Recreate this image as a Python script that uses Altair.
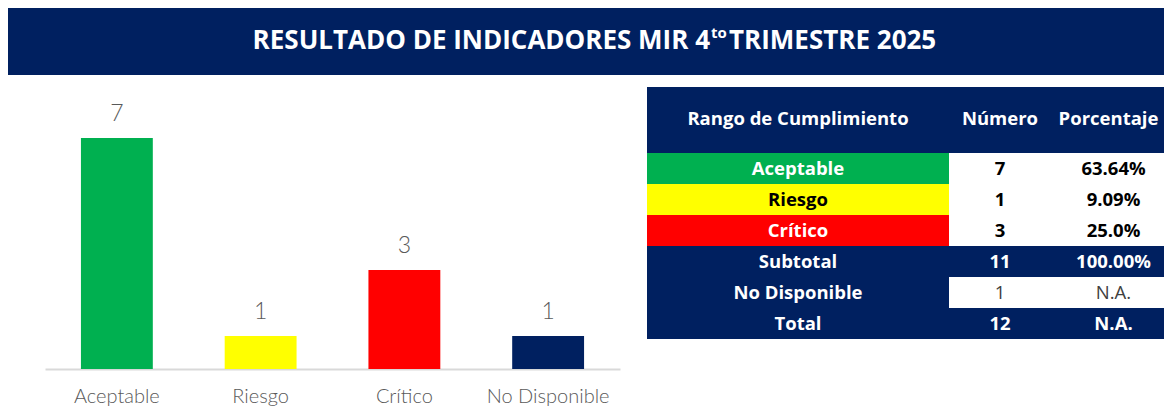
import altair as alt
import pandas as pd

# ---------------- data ----------------
TITLE_MAIN = "RESULTADO DE INDICADORES MIR 4"
TITLE_SUP = "to"
TITLE_END = "TRIMESTRE 2025"

bar_categories = ["Aceptable", "Riesgo", "Crítico", "No Disponible"]
bar_values = [7, 1, 3, 1]

table_headers = ["Rango de Cumplimiento", "Número", "Porcentaje"]
table_rows = ["Aceptable", "Riesgo", "Crítico", "Subtotal", "No Disponible", "Total"]
table_numbers = ["7", "1", "3", "11", "1", "12"]
table_percents = ["63.64%", "9.09%", "25.0%", "100.00%", "N.A.", "N.A."]

# ---------------- styles ----------------
NAVY = "#002060"
GREEN = "#00B050"
YELLOW = "#FFFF00"
RED = "#FF0000"
WHITE = "#FFFFFF"
BLACK = "#000000"
GRAY = "#595959"
DGRAY = "#404040"
FONT = "Open Sans"
BAR_FONT = "Lato"

bar_colors = {"Aceptable": GREEN, "Riesgo": YELLOW, "Crítico": RED, "No Disponible": NAVY}
label_fill = {"Aceptable": GREEN, "Riesgo": YELLOW, "Crítico": RED,
              "Subtotal": NAVY, "No Disponible": NAVY, "Total": NAVY}
label_color = {"Aceptable": WHITE, "Riesgo": BLACK, "Crítico": WHITE,
               "Subtotal": WHITE, "No Disponible": WHITE, "Total": WHITE}
value_fill = {"Aceptable": WHITE, "Riesgo": WHITE, "Crítico": WHITE,
              "Subtotal": NAVY, "No Disponible": WHITE, "Total": NAVY}
value_color = {"Aceptable": BLACK, "Riesgo": BLACK, "Crítico": BLACK,
               "Subtotal": WHITE, "No Disponible": DGRAY, "Total": WHITE}
value_weight = {"Aceptable": "bold", "Riesgo": "bold", "Crítico": "bold",
                "Subtotal": "bold", "No Disponible": "normal", "Total": "bold"}

TOTAL_W = 1156
BANNER_H = 67
BAR_W, BAR_H = 612, 282
COL_W = [302, 102, 113]
COL_DX = [0, 0, 6]
HEAD_DX = [0, 0, 1]
HEAD_H, BODY_H = 66, 186
FS = 18.5

# ---------------- banner ----------------
banner_df = pd.DataFrame({"part": ["main", "sup", "end"],
                          "text": [TITLE_MAIN, TITLE_SUP, TITLE_END]})
bb = alt.Chart(banner_df)
t_main = bb.transform_filter(alt.datum.part == "main").mark_text(
    font=FONT, fontSize=26, fontWeight="bold", color=WHITE, align="right", baseline="alphabetic"
).encode(x=alt.value(702), y=alt.value(41), text="text:N")
t_sup = bb.transform_filter(alt.datum.part == "sup").mark_text(
    font=FONT, fontSize=15, fontWeight="bold", color=WHITE, align="left", baseline="alphabetic"
).encode(x=alt.value(703), y=alt.value(30), text="text:N")
t_end = bb.transform_filter(alt.datum.part == "end").mark_text(
    font=FONT, fontSize=26, fontWeight="bold", color=WHITE, align="left", baseline="alphabetic"
).encode(x=alt.value(721), y=alt.value(41), text="text:N")
banner = alt.layer(t_main, t_sup, t_end).properties(
    width=TOTAL_W, height=BANNER_H, view=alt.ViewBackground(fill=NAVY, strokeWidth=0)
)

# ---------------- bar chart ----------------
bars_df = pd.DataFrame({"cat": bar_categories, "val": bar_values})
bx = alt.X(
    "cat:N", sort=bar_categories, title=None,
    scale=alt.Scale(range=[37, BAR_W], paddingInner=0.5, paddingOuter=0.25),
    axis=alt.Axis(labelAngle=0, ticks=False, grid=False, domainColor="#D9D9D9", domainWidth=2,
                  labelFont=BAR_FONT, labelFontSize=20, labelFontWeight=300, labelColor=GRAY,
                  labelPadding=17),
)
by = alt.Y("val:Q", scale=alt.Scale(domain=[0, 8.55]), axis=None)
bbase = alt.Chart(bars_df)
bar = bbase.mark_bar().encode(
    x=bx, y=by,
    color=alt.Color("cat:N", scale=alt.Scale(domain=bar_categories,
                                             range=[bar_colors[c] for c in bar_categories]),
                    legend=None),
)
bar_lab = bbase.mark_text(font=BAR_FONT, fontSize=23, fontWeight=300, color=GRAY,
                          baseline="alphabetic", dy=-17).encode(x=bx, y=by, text="val:Q")
bars = alt.layer(bar, bar_lab).properties(width=BAR_W, height=BAR_H)

# ---------------- table ----------------
tbl = pd.DataFrame({"row": table_rows, "label": table_rows,
                    "number": table_numbers, "pct": table_percents})
tbl["lfill"] = tbl["row"].map(label_fill)
tbl["lcolor"] = tbl["row"].map(label_color)
tbl["lweight"] = "bold"
tbl["vfill"] = tbl["row"].map(value_fill)
tbl["vcolor"] = tbl["row"].map(value_color)
tbl["vweight"] = tbl["row"].map(value_weight)

head_df = pd.DataFrame({"col": table_headers})


def head_panel(i):
    return alt.Chart(head_df).transform_filter(alt.datum.col == table_headers[i]).mark_text(
        font=FONT, fontSize=FS, fontWeight="bold", color=WHITE, baseline="middle",
        dy=-1, dx=HEAD_DX[i]
    ).encode(text="col:N").properties(
        width=COL_W[i], height=HEAD_H, view=alt.ViewBackground(fill=NAVY, strokeWidth=0)
    )


def body_panel(i, text_field, fill_field, color_field, weight_field):
    y = alt.Y("row:N", sort=table_rows, axis=None,
              scale=alt.Scale(paddingInner=0, paddingOuter=0))
    base = alt.Chart(tbl)
    rect = base.mark_rect().encode(
        x=alt.value(0), x2=alt.value("width"), y=y,
        fill=alt.Fill(f"{fill_field}:N", scale=None),
    )
    layers = [rect]
    for w in ["bold", "normal"]:
        layers.append(
            base.transform_filter(alt.datum[weight_field] == w).mark_text(
                font=FONT, fontSize=FS, fontWeight=w, baseline="middle", dx=COL_DX[i]
            ).encode(y=y, text=f"{text_field}:N",
                     color=alt.Color(f"{color_field}:N", scale=None))
        )
    return alt.layer(*layers).properties(width=COL_W[i], height=BODY_H)


cols = [
    alt.vconcat(head_panel(0), body_panel(0, "label", "lfill", "lcolor", "lweight"), spacing=0),
    alt.vconcat(head_panel(1), body_panel(1, "number", "vfill", "vcolor", "vweight"), spacing=0),
    alt.vconcat(head_panel(2), body_panel(2, "pct", "vfill", "vcolor", "vweight"), spacing=0),
]
table = alt.hconcat(*cols, spacing=0)

bottom = alt.hconcat(bars, table, spacing=27)
chart = alt.vconcat(banner, bottom, spacing=12).properties(padding=0).configure_view(strokeWidth=0)

chart.save("out.html", embed_options={"renderer": "svg", "actions": False})
